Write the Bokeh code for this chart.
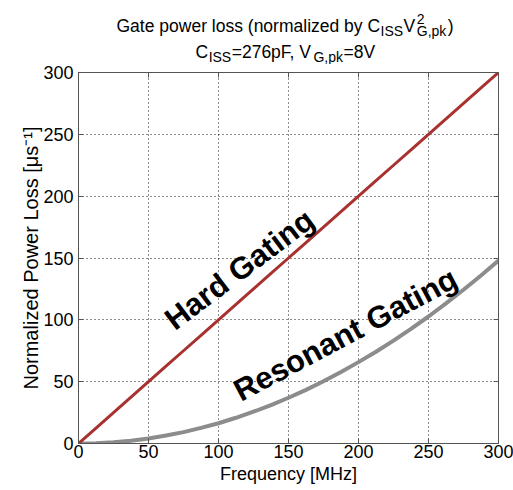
import math

from bokeh.core.properties import value
from bokeh.embed import file_html
from bokeh.layouts import column
from bokeh.models import ColumnDataSource, FixedTicker, Label, LinearAxis, Range1d
from bokeh.plotting import figure
from bokeh.resources import INLINE

# Gate power loss vs. switching frequency, normalized by C_ISS * V_G,pk^2
freq_mhz = [0, 12.5, 25, 37.5, 50, 62.5, 75, 87.5, 100, 112.5, 125, 137.5, 150,
            162.5, 175, 187.5, 200, 212.5, 225, 237.5, 250, 262.5, 275, 287.5, 300]
hard_loss = [0, 12.5, 25, 37.5, 50, 62.5, 75, 87.5, 100, 112.5, 125, 137.5, 150,
             162.5, 175, 187.5, 200, 212.5, 225, 237.5, 250, 262.5, 275, 287.5, 300]
resonant_loss = [0, 0.3, 1, 2.3, 4.1, 6.4, 9.2, 12.6, 16.4, 20.8, 25.7, 31.1, 37,
                 43.4, 50.3, 57.8, 65.8, 74.2, 83.2, 92.7, 102.7, 113.3, 124.3, 135.9, 148]
x_ticks = [0, 50, 100, 150, 200, 250, 300]
y_ticks = [0, 50, 100, 150, 200, 250, 300]

title_line1 = ["Gate power loss (normalized by C", "ISS", "V", "2", "G,pk", ")"]
title_line2 = ["C", "ISS", "=276pF, V", "G,pk", "=8V"]
x_label = "Frequency [MHz]"
y_label = "Normalized Power Loss [μs⁻¹]"

W, H = 513, 490
TITLE_H = 64                       # height of the strip holding the two title lines
FL, FR, FT, FB = 78, 498, 72, 443  # frame edges in page pixels
FONT = "Liberation Sans"
AX = "#555555"
HARD_COLOR = "#A8322F"
RES_COLOR = "#8C8C8C"

# ---------------------------------------------------------------- title strip
# x data units equal page pixels; y runs downward like the page
t = figure(
    width=W, height=TITLE_H,
    x_range=Range1d(FL, FR), y_range=Range1d(TITLE_H, 0),
    x_axis_location=None, y_axis_location=None,
    output_backend="svg", toolbar_location=None,
    min_border_left=FL, min_border_right=W - FR,
    min_border_top=0, min_border_bottom=0,
    background_fill_color="white", border_fill_color="white",
)
t.outline_line_color = None
t.xgrid.visible = False
t.ygrid.visible = False

# advance widths (per 1000 em) of the sans face used for the title runs
ADV = {
    "G": 778, "a": 556, "t": 278, "e": 556, " ": 278, "p": 556, "o": 556,
    "w": 722, "r": 333, "l": 222, "s": 500, "(": 333, ")": 333, "n": 556,
    "m": 833, "i": 222, "z": 500, "d": 556, "b": 556, "y": 500, "C": 722,
    "I": 278, "S": 667, "V": 667, "2": 556, ",": 278, "k": 500, "=": 584,
    "7": 556, "6": 556, "F": 611, "8": 556,
}


def adv(s, size):
    return sum(ADV[c] for c in s) * size / 1000.0


MAIN, SMALL = 17.5, 14
SUB_DY, SUP_DY = 5.5, -7

runs = {"x": [], "y": [], "text": [], "size": []}


def run(txt, x, y, size):
    runs["x"].append(x)
    runs["y"].append(y)
    runs["text"].append(txt)
    runs["size"].append(f"{size}px")


# line 1: Gate power loss (normalized by C_ISS V^2_G,pk)
main1, iss1, v1, two, gpk1, close = title_line1
x, base = 116, 25
run(main1, x, base, MAIN); x += adv(main1, MAIN) + 0.5
run(iss1, x, base + SUB_DY, SMALL); x += adv(iss1, SMALL) + 0.5
run(v1, x, base, MAIN); x += adv(v1, MAIN) + 1.5
run(two, x, base + SUP_DY, SMALL)
run(gpk1, x, base + SUB_DY, SMALL); x += adv(gpk1, SMALL) + 1.5
run(close, x, base, MAIN)

# line 2: C_ISS=276pF, V_G,pk=8V
x, base = 195, 51
for txt, sub in zip(title_line2, (False, True, False, True, False)):
    size = SMALL if sub else MAIN
    run(txt, x, base + (SUB_DY if sub else 0), size)
    x += adv(txt, size) + 0.5

t.text(x="x", y="y", text="text", source=ColumnDataSource(runs),
       text_font=value(FONT), text_font_size="size",
       text_align="left", text_baseline="alphabetic", text_color="black")

# ---------------------------------------------------------------- main axes
p = figure(
    width=W, height=H - TITLE_H,
    x_range=Range1d(0, 300), y_range=Range1d(0, 300),
    output_backend="svg", toolbar_location=None,
    min_border_left=FL, min_border_right=W - FR,
    min_border_top=FT - TITLE_H, min_border_bottom=H - FB,
    background_fill_color="white", border_fill_color="white",
)
p.outline_line_color = AX
p.outline_line_width = 1

for ax in (p.xaxis[0], p.yaxis[0]):
    ax.major_tick_in = 5
    ax.major_tick_out = 0
    ax.minor_tick_in = 0
    ax.minor_tick_out = 0
    ax.axis_line_color = AX
    ax.major_tick_line_color = AX
    ax.major_label_text_font = FONT
    ax.major_label_text_font_size = "18px"
    ax.major_label_text_color = "black"
    ax.axis_label_text_font = FONT
    ax.axis_label_text_font_style = "normal"
    ax.axis_label_text_color = "black"
p.xaxis.ticker = FixedTicker(ticks=x_ticks)
p.yaxis.ticker = FixedTicker(ticks=y_ticks)
p.xaxis.major_label_standoff = 1
p.yaxis.major_label_standoff = 5
p.xaxis.axis_label = x_label
p.yaxis.axis_label = y_label
p.xaxis.axis_label_text_font_size = "18px"
p.yaxis.axis_label_text_font_size = "20px"
p.xaxis.axis_label_standoff = 3
p.yaxis.axis_label_standoff = -2

# mirrored tick marks on the top and right edges of the box (no labels drawn)
for ticks, side in ((x_ticks, "above"), (y_ticks, "right")):
    extra = LinearAxis(
        ticker=FixedTicker(ticks=ticks),
        major_label_text_font_size="1px",
        major_label_text_color=None,
        major_tick_in=5, major_tick_out=0,
        minor_tick_in=0, minor_tick_out=0,
        major_label_standoff=0,
        axis_line_color=AX, major_tick_line_color=AX,
    )
    p.add_layout(extra, side)

for g, ticks in ((p.xgrid[0], x_ticks), (p.ygrid[0], y_ticks)):
    g.ticker = FixedTicker(ticks=ticks)
    g.grid_line_color = "black"
    g.grid_line_alpha = 0.9
    g.grid_line_dash = "1 3"
    g.grid_line_width = 1

p.line(freq_mhz, resonant_loss, line_color=RES_COLOR, line_width=4, line_join="round")
p.line(freq_mhz, hard_loss, line_color=HARD_COLOR, line_width=3, line_join="round")


def note(text, X, Y, angle_deg):
    """Bold curve caption centred at page pixel (X, Y)."""
    p.add_layout(Label(
        x=X - FL, y=FB - Y, x_units="screen", y_units="screen",
        text=text, text_font=FONT, text_font_size="31px", text_font_style="bold",
        text_align="center", text_baseline="middle",
        angle=math.radians(angle_deg), text_color="black",
    ))


note("Hard Gating", 239, 269, 37)
note("Resonant Gating", 345, 334, 28)

layout = column(t, p, spacing=0)
open("out.html", "w").write(file_html(layout, INLINE))
